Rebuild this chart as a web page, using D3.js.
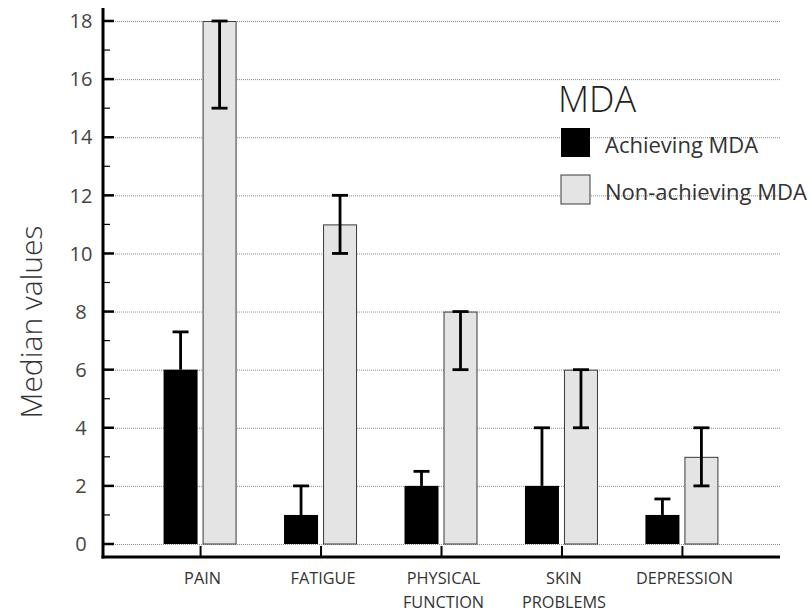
<!DOCTYPE html>
<html>
<head>
<meta charset="utf-8">
<script src="https://cdn.jsdelivr.net/npm/d3@7/dist/d3.min.js"></script>
<style>
  html, body { margin: 0; padding: 0; background: #fff; }
  svg { display: block; font-family: "Open Sans", "Noto Sans", sans-serif; }
</style>
</head>
<body>
<svg id="chart" width="810" height="613"></svg>
<script>
// Median scores by domain, split by MDA status
const categories = ["PAIN", "FATIGUE", "PHYSICAL FUNCTION", "SKIN PROBLEMS", "DEPRESSION"];
const categoryLines = [["PAIN"], ["FATIGUE"], ["PHYSICAL", "FUNCTION"], ["SKIN", "PROBLEMS"], ["DEPRESSION"]];
const achieving = [6, 1, 2, 2, 1];
const achievingLow = [6, 1, 2, 2, 1];
const achievingHigh = [7.3, 2, 2.5, 4, 1.55];
const nonAchieving = [18, 11, 8, 6, 3];
const nonAchievingLow = [15, 10, 6, 4, 2];
const nonAchievingHigh = [18, 12, 8, 6, 4];
const yTicks = [0, 2, 4, 6, 8, 10, 12, 14, 16, 18];
const yMinorTicks = [1, 3, 5, 7, 9, 11, 13, 15, 17];
const seriesNames = ["Achieving MDA", "Non-achieving MDA"];

const svg = d3.select("#chart");
const left = 103, right = 780, axisBottom = 557, axisTop = 8;

const x = d3.scalePoint().domain(categories).range([left, right]).padding(0.81);
const y = d3.scaleLinear().domain([0, 18]).range([544, 21]);

const barW = 34;
const colors = { ach: "#000000", non: "#e4e4e4" };

// dotted gridlines at major ticks
svg.append("g").selectAll("line").data(yTicks).join("line")
  .attr("x1", left).attr("x2", right)
  .attr("y1", d => y(d) + 0.5).attr("y2", d => y(d) + 0.5)
  .attr("stroke", "#8a8a8a").attr("stroke-width", 1)
  .attr("stroke-dasharray", "1,1");

// bars
const groups = svg.append("g").selectAll("g").data(categories).join("g");

groups.append("rect")
  .attr("x", d => x(d) - 37)
  .attr("width", barW)
  .attr("y", (d, i) => y(achieving[i]))
  .attr("height", (d, i) => y(0) - y(achieving[i]))
  .attr("fill", colors.ach);

groups.append("rect")
  .attr("x", d => x(d) + 2.5)
  .attr("width", barW - 1)
  .attr("y", (d, i) => y(nonAchieving[i]) + 0.5)
  .attr("height", (d, i) => y(0) - y(nonAchieving[i]) - 0.5)
  .attr("fill", colors.non)
  .attr("stroke", "#3a3a3a").attr("stroke-width", 1);

// error bars: achieving shows upper whisker only, non-achieving shows both caps
groups.each(function (d, i) {
  const g = d3.select(this);
  const cA = x(d) - 20, cN = x(d) + 19;
  const ga = g.append("g").attr("stroke", "#000").attr("stroke-width", 2.8);
  ga.append("line").attr("x1", cA).attr("x2", cA).attr("y1", y(achievingLow[i])).attr("y2", y(achievingHigh[i]));
  ga.append("line").attr("x1", cA - 8).attr("x2", cA + 8).attr("y1", y(achievingHigh[i])).attr("y2", y(achievingHigh[i]));
  const gn = g.append("g").attr("stroke", "#000").attr("stroke-width", 2.8);
  gn.append("line").attr("x1", cN).attr("x2", cN).attr("y1", y(nonAchievingLow[i])).attr("y2", y(nonAchievingHigh[i]));
  [nonAchievingLow[i], nonAchievingHigh[i]].forEach(v => {
    gn.append("line").attr("x1", cN - 8).attr("x2", cN + 8).attr("y1", y(v)).attr("y2", y(v));
  });
});

// y axis with inward ticks
const yAxis = svg.append("g");
yAxis.append("line").attr("x1", left).attr("x2", left).attr("y1", axisTop).attr("y2", axisBottom + 1.5)
  .attr("stroke", "#000").attr("stroke-width", 3);
yAxis.selectAll(".maj").data(yTicks).join("line")
  .attr("x1", left).attr("x2", left + 11)
  .attr("y1", d => y(d)).attr("y2", d => y(d))
  .attr("stroke", "#000").attr("stroke-width", 2.5);
yAxis.selectAll(".min").data(yMinorTicks).join("line")
  .attr("x1", left).attr("x2", left + 7)
  .attr("y1", d => y(d)).attr("y2", d => y(d))
  .attr("stroke", "#000").attr("stroke-width", 1.2);
yAxis.selectAll("text").data(yTicks).join("text")
  .attr("x", 81).attr("y", d => y(d)).attr("dy", "0.36em")
  .attr("text-anchor", "middle")
  .attr("font-size", 20).attr("fill", "#444")
  .text(d => d);

// x axis with category ticks
const xAxis = svg.append("g");
xAxis.append("line").attr("x1", left - 1.5).attr("x2", right).attr("y1", axisBottom).attr("y2", axisBottom)
  .attr("stroke", "#000").attr("stroke-width", 3);
xAxis.selectAll(".tk").data(categories).join("line")
  .attr("x1", d => x(d)).attr("x2", d => x(d))
  .attr("y1", axisBottom).attr("y2", axisBottom - 11)
  .attr("stroke", "#000").attr("stroke-width", 2);
const labels = xAxis.selectAll("text").data(categories).join("text")
  .attr("text-anchor", "middle")
  .attr("font-size", 16.3).attr("fill", "#333");
labels.each(function (d, i) {
  d3.select(this).selectAll("tspan").data(categoryLines[i]).join("tspan")
    .attr("x", x(d) + 2)
    .attr("y", (t, j) => 584 + j * 24)
    .text(t => t);
});

// y axis title
svg.append("text")
  .attr("transform", "translate(42,322) rotate(-90)")
  .attr("text-anchor", "middle")
  .attr("font-size", 30).attr("font-weight", 300).attr("fill", "#333")
  .text("Median values");

// legend
const legend = svg.append("g");
legend.append("text").attr("x", 558).attr("y", 112)
  .attr("font-size", 36).attr("font-weight", 300).attr("fill", "#222")
  .text("MDA");
const items = [
  { name: seriesNames[0], fill: colors.ach, stroke: "none", y: 128 },
  { name: seriesNames[1], fill: colors.non, stroke: "#3a3a3a", y: 175 }
];
const li = legend.selectAll("g.item").data(items).join("g").attr("class", "item");
li.append("rect").attr("x", 561).attr("y", d => d.y).attr("width", 29).attr("height", 29)
  .attr("fill", d => d.fill).attr("stroke", d => d.stroke);
li.append("text").attr("x", 605).attr("y", d => d.y + 25)
  .attr("font-size", 22).attr("fill", "#333")
  .text(d => d.name);
</script>
</body>
</html>
